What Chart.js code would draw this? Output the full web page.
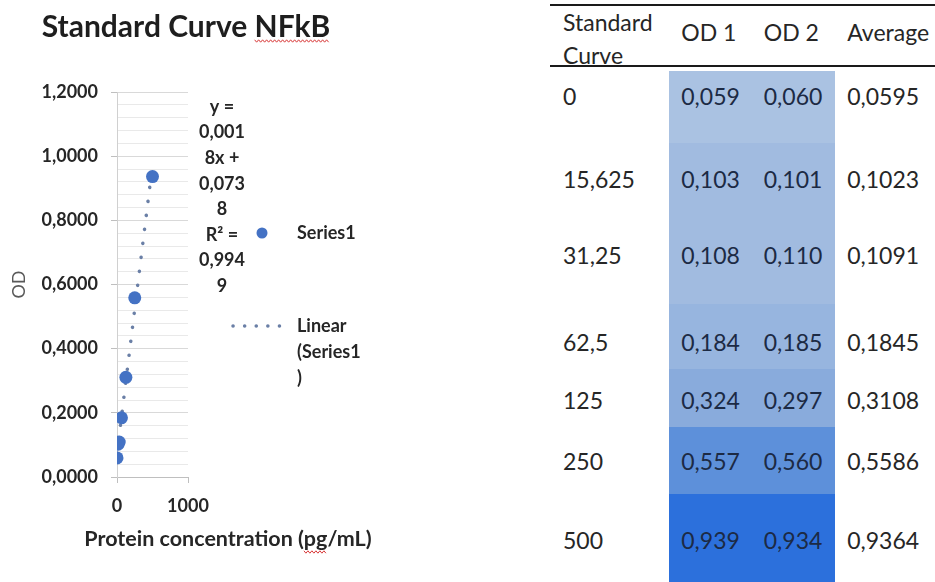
<!DOCTYPE html>
<html>
<head>
<meta charset="utf-8">
<script src="https://cdn.jsdelivr.net/npm/chart.js@4.4.1/dist/chart.umd.min.js"></script>
<style>
  html, body { margin: 0; padding: 0; background: #fff; }
  body { width: 935px; height: 582px; position: relative; overflow: hidden; font-family: Lato, sans-serif; }
  #chartBox { position: absolute; left: 0; top: 0; width: 372px; height: 582px; }
  #odTable { position: absolute; left: 550px; top: 4px; border-collapse: separate; border-spacing: 0;
             table-layout: fixed; font-size: 23px; color: #262626; }
  #odTable td, #odTable th { padding: 0 0 0 12px; font-weight: normal; text-align: left; vertical-align: top;
             line-height: 28px; white-space: nowrap; overflow: visible; }
  #odTable th { border-top: 2px solid #1a1a1a; border-bottom: 2px solid #1a1a1a; height: 63px; padding-top: 12px; box-sizing: border-box; }
  #odTable th.first { padding-top: 0; line-height: 33px; padding-left: 13px; }
  #odTable td.first { padding-left: 13px; }
  #odTable td.band { color: #1c2a44; }
</style>
</head>
<body>
<div id="chartBox"><canvas id="curveChart"></canvas></div>
<table id="odTable">
  <colgroup><col style="width:120px"><col style="width:83px"><col style="width:84px"><col style="width:100px"></colgroup>
  <thead><tr>
    <th class="first"><div style="height:59px">Standard<br>Curve</div></th>
    <th>OD 1</th><th>OD 2</th><th>Average</th>
  </tr></thead>
  <tbody id="odBody"></tbody>
</table>
<script>
// standard curve data
const concentrations = [0, 15.625, 31.25, 62.5, 125, 250, 500];
const od1 = [0.059, 0.103, 0.108, 0.184, 0.324, 0.557, 0.939];
const od2 = [0.060, 0.101, 0.110, 0.185, 0.297, 0.560, 0.934];
const averages = [0.0595, 0.1023, 0.1091, 0.1845, 0.3108, 0.5586, 0.9364];

// linear trendline endpoints (y = 0,0018x + 0,0738)
const trendX = [0, 500];
const trendY = [0.0738, 0.9738];
const equationLines = ['y =', '0,001', '8x +', '0,073', '8', 'R² =', '0,994', '9'];
const xTickValues = [0, 1000];

// table look
const bandColors = ['#aac2e2', '#a1bbe0', '#a1bbe0', '#97b5df', '#89abdc', '#5d90da', '#2c70dc'];
const rowHeights = [72, 76, 85, 65, 58, 67, 89];
const textTops = [11, 22, 22, 24, 17, 20, 32];

const comma = (v, d) => (d == null ? String(v) : v.toFixed(d)).replace('.', ',');

const body = document.getElementById('odBody');
body.innerHTML = '<tr><td colspan="4" style="height:4px;padding:0;line-height:0"></td></tr>';
concentrations.forEach((c, i) => {
    const tr = document.createElement('tr');
    const pad = 'height:' + rowHeights[i] + 'px;padding-top:' + textTops[i] + 'px;box-sizing:border-box;';
    tr.innerHTML =
        '<td class="first" style="' + pad + '">' + comma(c) + '</td>' +
        '<td class="band" style="' + pad + 'background:' + bandColors[i] + '">' + comma(od1[i], 3) + '</td>' +
        '<td class="band" style="' + pad + 'background:' + bandColors[i] + '">' + comma(od2[i], 3) + '</td>' +
        '<td style="' + pad + '">' + comma(averages[i], 4) + '</td>';
    body.appendChild(tr);
});

function squiggle(ctx, x0, x1, y) {
    ctx.beginPath();
    ctx.strokeStyle = '#d83a3a';
    ctx.lineWidth = 1;
    let k = 0;
    for (let x = x0; x <= x1; x += 2, k++) {
        const yy = y + (k % 2 ? 1.2 : -1.2);
        if (k === 0) ctx.moveTo(x, yy); else ctx.lineTo(x, yy);
    }
    ctx.stroke();
}

const textPlugin = {
    id: 'textPlugin',
    afterDraw(chart) {
        const ctx = chart.ctx;
        const area = chart.chartArea;
        ctx.save();
        ctx.fillStyle = '#1e1e1e';
        ctx.textBaseline = 'middle';

        // chart title
        ctx.font = 'bold 30px Lato';
        ctx.textAlign = 'left';
        const title = 'Standard Curve NFkB';
        const tw = ctx.measureText(title).width;
        const tx = chart.width / 2 - tw / 2;
        ctx.fillText(title, tx, 27);
        const pre = ctx.measureText('Standard Curve ').width;
        squiggle(ctx, tx + pre, tx + tw, 41);

        // x axis title
        ctx.font = 'bold 21.5px Lato';
        const xt = 'Protein concentration (pg/mL)';
        const xw = ctx.measureText(xt).width;
        const xx = 228 - xw / 2;
        ctx.fillStyle = '#262626';
        ctx.fillText(xt, xx, 539);
        const pgStart = ctx.measureText('Protein concentration (').width;
        const pgEnd = ctx.measureText('Protein concentration (pg').width;
        squiggle(ctx, xx + pgStart, xx + pgEnd, 552);

        // trendline equation
        ctx.font = 'bold 18px Lato';
        ctx.textAlign = 'center';
        equationLines.forEach((line, i) => {
            ctx.fillText(line, area.right + 34, 107 + i * 25.6);
        });

        // legend
        ctx.beginPath();
        ctx.fillStyle = '#4472c4';
        ctx.arc(area.right + 74, 233, 5.5, 0, Math.PI * 2);
        ctx.fill();
        ctx.fillStyle = '#262626';
        ctx.textAlign = 'left';
        ctx.fillText('Series1', area.right + 109, 233);
        ctx.fillText('Linear', area.right + 109, 326);
        ctx.fillText('(Series1', area.right + 109, 352);
        ctx.fillText(')', area.right + 109, 378);
        ctx.beginPath();
        ctx.strokeStyle = '#6a7fa6';
        ctx.lineWidth = 3.5;
        ctx.lineCap = 'round';
        ctx.setLineDash([0.1, 11.5]);
        ctx.moveTo(area.right + 45, 326);
        ctx.lineTo(area.right + 103, 326);
        ctx.stroke();
        ctx.restore();
    }
};

const ctx = document.getElementById('curveChart').getContext('2d');
new Chart(ctx, {
    type: 'scatter',
    data: {
        datasets: [{
            label: 'Series1',
            data: concentrations.map((c, i) => ({ x: c, y: averages[i] })),
            backgroundColor: '#4472c4',
            borderWidth: 0,
            pointRadius: 6.5,
            order: 0
        }, {
            type: 'line',
            label: 'Linear (Series1)',
            data: trendX.map((x, i) => ({ x: x, y: trendY[i] })),
            borderColor: '#6a7fa6',
            borderWidth: 3.5,
            borderDash: [0.1, 14],
            borderCapStyle: 'round',
            pointRadius: 0,
            fill: false,
            order: 1
        }]
    },
    options: {
        responsive: true,
        maintainAspectRatio: false,
        animation: false,
        events: [],
        layout: { padding: { top: 92, right: 184, bottom: 0, left: 0 } },
        plugins: {
            legend: { display: false },
            title: { display: false },
            tooltip: { enabled: false }
        },
        scales: {
            x: {
                type: 'linear',
                min: xTickValues[0],
                max: xTickValues[1],
                afterFit: (scale) => { scale.height = 105; },
                border: { color: '#bfbfbf' },
                grid: { drawOnChartArea: false, tickLength: 6, tickColor: '#bfbfbf' },
                ticks: {
                    stepSize: xTickValues[1] - xTickValues[0],
                    padding: 12,
                    color: '#262626',
                    font: { family: 'Lato', size: 18, weight: 'bold' },
                    callback: (value) => String(value)
                }
            },
            y: {
                min: 0,
                max: 1.2,
                afterFit: (scale) => { scale.width = 117; },
                border: { color: '#d0d0d0' },
                title: {
                    display: true,
                    text: 'OD',
                    color: '#595959',
                    padding: { top: 8, bottom: 0 },
                    font: { family: 'Lato', size: 18 }
                },
                grid: {
                    tickLength: 6,
                    color: (c) => c.index % 5 === 0 ? '#d9d9d9' : '#e9e9e9',
                    tickColor: (c) => c.index % 5 === 0 ? '#bfbfbf' : 'rgba(0,0,0,0)'
                },
                ticks: {
                    stepSize: 0.04,
                    autoSkip: false,
                    padding: 13,
                    color: '#262626',
                    font: { family: 'Lato', size: 18, weight: 'bold' },
                    callback: (value, index) => index % 5 === 0 ? value.toFixed(4).replace('.', ',') : ''
                }
            }
        }
    },
    plugins: [textPlugin]
});
</script>
</body>
</html>
